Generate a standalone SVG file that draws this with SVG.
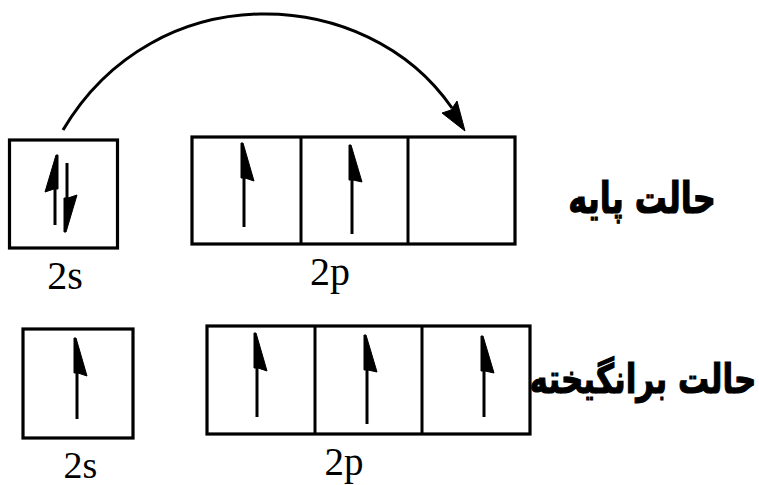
<svg xmlns="http://www.w3.org/2000/svg" width="759" height="485" viewBox="0 0 759 485">
<style>
.box{fill:none;stroke:#000;stroke-width:3.2}
.ln{stroke:#000;stroke-width:3;fill:none}
.hd{fill:#000;stroke:#000;stroke-width:1;stroke-linejoin:round}
.lbl{font-family:"Liberation Serif","Times New Roman",serif;font-size:40px;fill:#000;text-anchor:middle}
.fa{font-family:"DejaVu Sans","Noto Sans",sans-serif;font-weight:bold;font-size:32px;fill:#000;stroke:#000;stroke-width:0.9;text-anchor:middle}
</style>
<rect width="759" height="485" fill="#fff"/>
<g id="connectors">
<path class="ln" d="M63,130 C155,-25.5 366.5,-16.5 452,108"/>
<polygon class="hd" points="465,131 442,113 451,110 457,101"/>
</g>
<g id="ground-2s">
<rect class="box" x="9.5" y="140" width="108" height="108"/>
<line class="ln" x1="55" y1="225" x2="55" y2="170"/>
<polygon class="hd" points="58,155 56,155 45,192 54,189 58,189"/>
<line class="ln" x1="67" y1="163" x2="67" y2="215"/>
<polygon class="hd" points="64,232 66,232 77,195 68,198 64,198"/>
<text class="lbl" x="65" y="289">2s</text>
</g>
<g id="ground-2p">
<rect class="box" x="192" y="137" width="323" height="107"/>
<line class="ln" x1="301" y1="137" x2="301" y2="244"/>
<line class="ln" x1="408" y1="137" x2="408" y2="244"/>
<line class="ln" x1="244" y1="227" x2="244" y2="165"/>
<polygon class="hd" points="241,143 243,143 254,181 245,178 241,178"/>
<line class="ln" x1="352" y1="234" x2="352" y2="167"/>
<polygon class="hd" points="349,145 351,145 362,182 353,180 349,180"/>
<text class="lbl" x="330" y="285">2p</text>
</g>
<g id="ground-label">
<text class="fa" transform="translate(642,213) scale(1,1.35)" x="0" y="0">حالت پایه</text>
</g>
<g id="excited-2s">
<rect class="box" x="23" y="329" width="110" height="109"/>
<line class="ln" x1="77" y1="419" x2="77" y2="360"/>
<polygon class="hd" points="74,338 76,338 87,376 78,373 74,373"/>
<text class="lbl" x="80.5" y="478" style="font-size:38px">2s</text>
</g>
<g id="excited-2p">
<rect class="box" x="207" y="326" width="323" height="108"/>
<line class="ln" x1="315" y1="326" x2="315" y2="434"/>
<line class="ln" x1="422" y1="326" x2="422" y2="434"/>
<line class="ln" x1="257" y1="417" x2="257" y2="355"/>
<polygon class="hd" points="254,333 256,333 267,371 258,368 254,368"/>
<line class="ln" x1="367" y1="424" x2="367" y2="357"/>
<polygon class="hd" points="364,335 366,335 377,372 368,370 364,370"/>
<line class="ln" x1="484" y1="417" x2="484" y2="358"/>
<polygon class="hd" points="481,336 483,336 494,373 485,371 481,371"/>
<text class="lbl" x="344" y="475" style="font-size:39px">2p</text>
</g>
<g id="excited-label">
<text class="fa" transform="translate(643,393) scale(1,1.3)" x="0" y="0" style="font-size:31px">حالت برانگیخته</text>
</g>
</svg>
